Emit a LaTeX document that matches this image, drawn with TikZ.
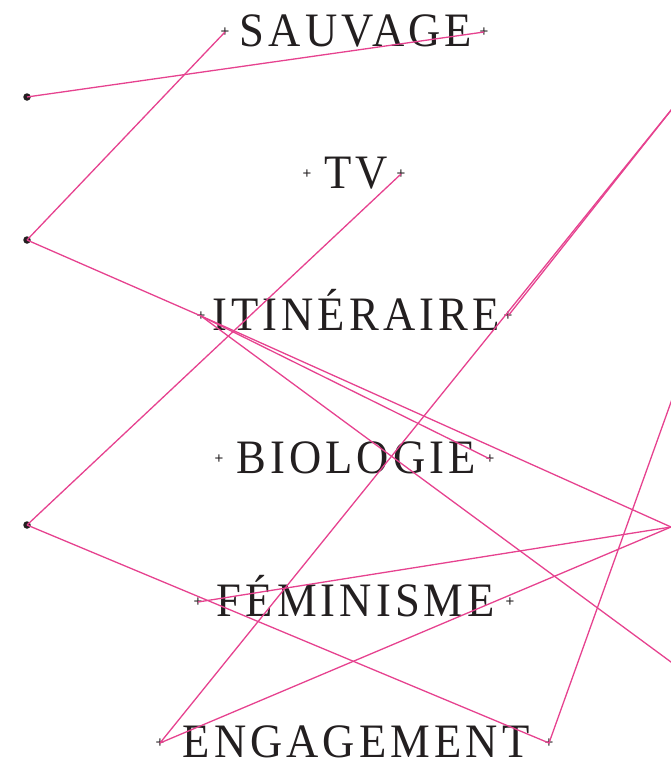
\documentclass[tikz,border=0pt]{standalone}
\usepackage{fontspec}
\usetikzlibrary{positioning}
\newfontfamily\wordfont[LetterSpace=8.5,FakeStretch=0.93]{Liberation Serif}
\newfontfamily\markfont{Liberation Sans}
\definecolor{link}{HTML}{E6428F}
\definecolor{ink}{HTML}{231F20}

\begin{document}
\begin{tikzpicture}[x=1pt,y=-1pt,
    word/.style={font=\wordfont\fontsize{48}{50}\selectfont,text=ink,anchor=base,inner sep=0},
    plusmark/.style={font=\markfont\fontsize{15}{15}\selectfont,text=ink,inner sep=0},
    dot/.style={circle,fill=ink,inner sep=0,minimum size=7.5pt},
    link/.style={draw=link,line width=1.3pt}]
  \clip (0,0) rectangle (671,758);
  % words
  \node[word] (sauvage) at (356,46) {SAUVAGE};
  \node[word] (tv) at (356,188) {TV};
  \node[word] (itineraire) at (356,330) {ITINÉRAIRE};
  \node[word] (biologie) at (356,473) {BIOLOGIE};
  \node[word] (feminisme) at (356,616) {FÉMINISME};
  \node[word] (engagement) at (356,757) {ENGAGEMENT};
  % end marks
  \node[plusmark] (sauL) at (225,32) {+};
  \node[plusmark] (sauR) at (484,32) {+};
  \node[plusmark] (tvL) at (307,174) {+};
  \node[plusmark] (tvR) at (401,174) {+};
  \node[plusmark] (itiL) at (201,316) {+};
  \node[plusmark] (itiR) at (508,316) {+};
  \node[plusmark] (bioL) at (219,459) {+};
  \node[plusmark] (bioR) at (490,459) {+};
  \node[plusmark] (femL) at (198,602) {+};
  \node[plusmark] (femR) at (510,602) {+};
  \node[plusmark] (engL) at (160,743) {+};
  \node[plusmark] (engR) at (549,743) {+};
  % left dots
  \node[dot] (d1) at (27,97) {};
  \node[dot] (d2) at (27,240) {};
  \node[dot] (d3) at (27,525) {};
  % off the right edge
  \coordinate (e1) at (671,527);
  \coordinate (e2) at (690,676);
  \coordinate (e3) at (690,349);
  \coordinate (e4) at (680,99);
  % connectors
  \draw[link] (d1.center) -- (sauR.center);
  \draw[link] (d2.center) -- (sauL.center);
  \draw[link] (d2.center) -- (itiL.center) -- (e1);
  \draw[link] (itiL.center) -- (bioR.center);
  \draw[link] (itiL.center) -- (e2);
  \draw[link] (tvR.center) -- (d3.center);
  \draw[link] (d3.center) -- (engR.center) -- (e3);
  \draw[link] (engL.center) -- (e4);
  \draw[link] (itiR.center) -- (e4);
  \draw[link] (femL.center) -- (e1);
  \draw[link] (engL.center) -- (e1);
\end{tikzpicture}
\end{document}
